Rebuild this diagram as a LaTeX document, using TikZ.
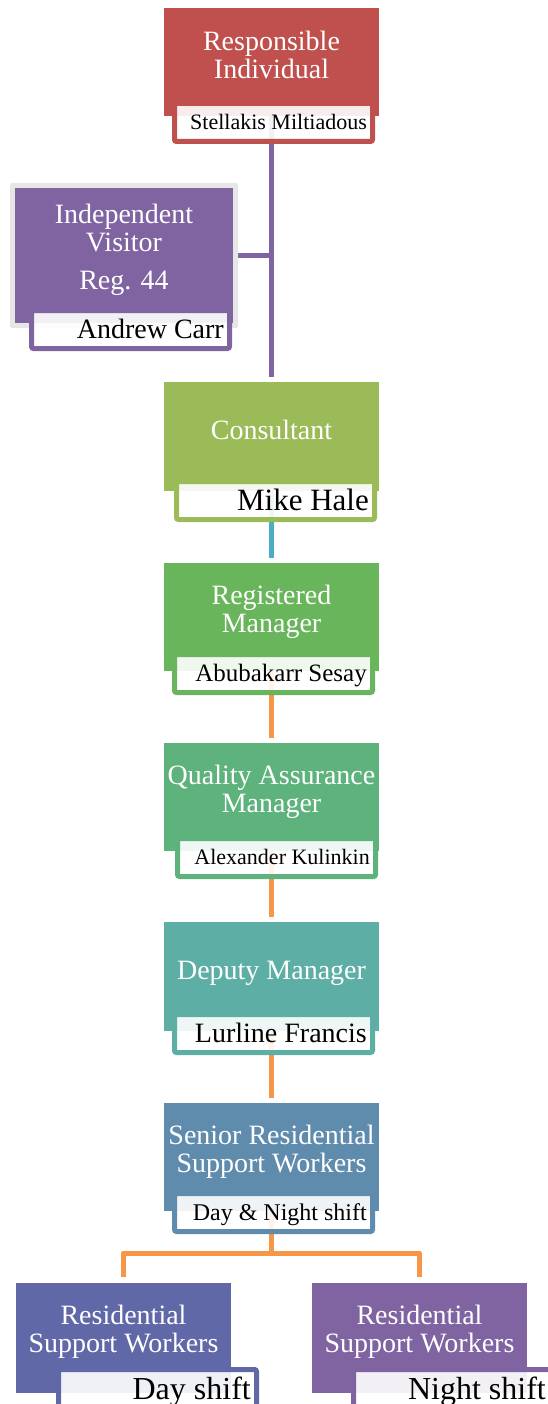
\documentclass[tikz,border=0pt]{standalone}
\usepackage{fontspec}
\setmainfont{Liberation Serif}
\usepackage{tikz}
\usetikzlibrary{backgrounds}
\definecolor{rired}{HTML}{C0504D}
\definecolor{ivpurple}{HTML}{8064A2}
\definecolor{consgreen}{HTML}{9BBB59}
\definecolor{reggreen}{HTML}{69B55C}
\definecolor{qagreen}{HTML}{5EB27C}
\definecolor{depteal}{HTML}{5DAFA6}
\definecolor{senblue}{HTML}{5F8BAD}
\definecolor{dayblue}{HTML}{6168A8}
\definecolor{nightpurple}{HTML}{8064A2}
\definecolor{ivgray}{HTML}{E6E6E6}
\definecolor{linkpurple}{HTML}{8064A2}
\definecolor{linkblue}{HTML}{4BACC6}
\definecolor{linkorange}{HTML}{F79646}

\begin{document}
\begin{tikzpicture}[x=1pt,y=-1pt,
    unitbox/.style={rectangle,inner sep=0,outer sep=0,anchor=north west},
    framebox/.style={rectangle,inner sep=0,outer sep=0,line width=5pt,fill=white,fill opacity=0.9,
        rounded corners=2pt,minimum width=198pt,minimum height=38pt,anchor=south west},
    titletext/.style={text=white,align=center,inner sep=0,anchor=north,font=\fontsize{28}{28}\selectfont},
    nametext/.style={text=black,inner sep=0,anchor=base east},
    link/.style={line width=5pt,shorten >=5pt,line join=round}]
\useasboundingbox (0,0) rectangle (548,1404);
\clip (0,0) rectangle (548,1404);
% grey backing of the visitor box
\fill[ivgray,rounded corners=2pt] (10,183) rectangle (238,328);
% one unit: coloured box, framed name tab, title, name
\foreach \id/\col/\lx/\ty/\bw/\bh/\fx/\fb/\tb/\ps/\title/\person in {
    ri/rired/164/8/215/108/172/144/50/22/{Responsible\\Individual}/{Stellakis Miltiadous},
    iv/ivpurple/15/188/218/135/29/351/223/28/{Independent\\Visitor\\[10pt]Reg. 44}/{Andrew Carr},
    cons/consgreen/164/382/215/109/174/522/439/31/{Consultant}/{Mike Hale},
    reg/reggreen/164/563/215/108/172/695/604/25/{Registered\\Manager}/{Abubakarr Sesay},
    qa/qagreen/164/743/215/108/175/879/784/22/{Quality Assurance\\Manager}/{Alexander Kulinkin},
    dep/depteal/164/922/215/109/172/1055/979/28/{Deputy Manager}/{Lurline Francis},
    sen/senblue/164/1103/215/108/172/1234/1144/24/{Senior Residential\\Support Workers}/{Day \& Night shift},
    day/dayblue/16/1283/215/110/56/1410/1324/32/{Residential\\Support Workers}/{Day shift},
    night/nightpurple/312/1283/215/110/351/1410/1324/32/{Residential\\Support Workers}/{Night shift}}
{
    \node[unitbox,fill=\col,minimum width=\bw,minimum height=\bh] (\id) at (\lx,\ty) {};
    \node[framebox,draw=\col] (\id-f) at (\fx+2.5,\fb-2.5) {};
    \node[titletext] (\id-t) at (\lx+\bw/2,\tb-19.6) {\strut\title};
    \node[nametext,font=\fontsize{\ps}{\ps}\selectfont] (\id-n) at (\fx+195,\fb-21.5+0.331*\ps) {\person};
}
% connectors
\begin{scope}[on background layer]
    \draw[link,draw=linkpurple] (ri.south) -- (cons.north);
    \draw[link,draw=linkpurple,shorten >=0pt] (iv.east) -- (iv.east -| ri.south);
    \draw[link,draw=linkblue] (cons.south) -- (reg.north);
    \draw[link,draw=linkorange] (reg.south) -- (qa.north);
    \draw[link,draw=linkorange] (qa.south) -- (dep.north);
    \draw[link,draw=linkorange] (dep.south) -- (sen.north);
    \draw[link,draw=linkorange,shorten >=6pt] (sen.south) -- ++(0,42) coordinate (split) -| (day.north);
    \draw[link,draw=linkorange,shorten >=6pt] (split) -| (night.north);
\end{scope}
\end{tikzpicture}
\end{document}
